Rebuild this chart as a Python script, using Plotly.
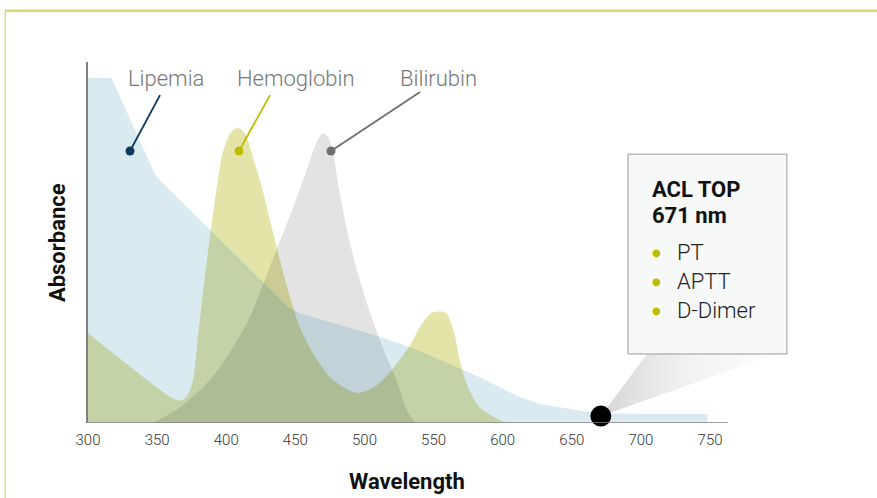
import plotly.graph_objects as go

# ---------------- data ----------------
lipemia_wl = [300, 317, 349, 400, 445, 453, 470, 490, 511, 535, 560, 583, 600, 612, 628, 644, 660, 675, 700, 748]
lipemia_abs = [100, 100, 71.6, 51.4, 33.5, 31.9, 29.9, 27.5, 25.0, 21.7, 17.4, 13.3, 10.0, 7.5, 5.4, 4.3, 3.3, 2.8, 2.6, 2.6]

hemo_wl = [300, 352, 360, 367, 372, 376, 379, 386, 392, 398, 404, 409, 414, 420, 426, 434, 444, 453, 463, 477, 495, 511, 533, 540, 549, 559, 565, 569, 575, 583, 598, 606]
hemo_abs = [26, 9.6, 7.4, 6.5, 8.0, 12.5, 23, 47, 65, 79, 84.5, 85.5, 83.5, 76, 68, 55, 39.5, 28, 20, 12.5, 8.7, 11.6, 22.5, 27.8, 32, 31.9, 26, 18, 10.4, 4.6, 0.9, 0]

bili_wl = [347, 367, 390, 415, 437, 448, 458, 465, 470, 474, 477, 482, 489, 497, 504, 513, 523, 531, 537]
bili_abs = [0, 4.6, 13.3, 29, 51, 62, 73, 81, 84, 82.5, 79, 67, 53, 41, 32, 22, 12.5, 3.5, 0]

tick_values = [300, 350, 400, 450, 500, 550, 600, 650, 700, 750]
tick_labels = ["300", "350", "400", "450", "500", "550", "600", "650", "700", "750"]

acl_wavelength = 671
acl_tests = ["PT", "APTT", "D-Dimer"]
series_names = ["Lipemia", "Hemoglobin", "Bilirubin"]

# ---------------- styles ----------------
FONT = "Roboto"
C_HEMO = "rgb(229,228,168)"          # opaque, bottom layer
C_BILI = "rgba(0,0,0,0.11)"          # translucent grey, middle layer
C_LIP = "rgba(2,115,162,0.15)"       # translucent blue, top layer
DOT_COLORS = ["#0b3a5e", "#bfbc00", "#6e6e6e"]
OLIVE = "#bfbc00"

fig = go.Figure()

for wl, ab, col, shape in [(hemo_wl, hemo_abs, C_HEMO, "spline"),
                           (bili_wl, bili_abs, C_BILI, "spline"),
                           (lipemia_wl, lipemia_abs, C_LIP, "linear")]:
    fig.add_trace(go.Scatter(
        x=wl, y=ab, mode="lines", fill="tozeroy", fillcolor=col,
        line=dict(width=0, color="rgba(0,0,0,0)", shape=shape, smoothing=0.8),
        hoverinfo="skip", showlegend=False))

# beam from the ACL TOP point to the callout box
fig.add_trace(go.Scatter(
    x=[acl_wavelength, 704.4, 798.4, acl_wavelength], y=[2.0, 20, 20, 2.0],
    mode="lines", fill="toself", line=dict(width=0),
    fillgradient=dict(type="horizontal",
                      colorscale=[[0, "rgb(214,214,214)"], [0.45, "rgb(240,240,240)"], [1, "rgb(255,255,255)"]]),
    hoverinfo="skip", showlegend=False, cliponaxis=False))

# ACL TOP marker
fig.add_trace(go.Scatter(x=[acl_wavelength], y=[2.0], mode="markers",
                         marker=dict(size=21, color="black"),
                         hoverinfo="skip", showlegend=False, cliponaxis=False))

# leader lines for the series labels
leaders = [((330.4, 78.8), (352.1, 95.0)),
           ((409.2, 78.8), (431.7, 95.0)),
           ((475.8, 78.8), (540.2, 95.9))]
label_pos = [356.4, 450.5, 553.2]
for (d, e), col, name, lx in zip(leaders, DOT_COLORS, series_names, label_pos):
    fig.add_trace(go.Scatter(x=[d[0], e[0]], y=[d[1], e[1]], mode="lines",
                             line=dict(color=col, width=1.8),
                             hoverinfo="skip", showlegend=False, cliponaxis=False))
    fig.add_trace(go.Scatter(x=[d[0]], y=[d[1]], mode="markers",
                             marker=dict(size=9, color=col),
                             hoverinfo="skip", showlegend=False, cliponaxis=False))
    fig.add_annotation(x=lx, y=99.7, xref="x", yref="y", text=name, showarrow=False,
                       xanchor="center", yanchor="middle",
                       font=dict(family=FONT, size=22, color="#777777", weight=300))

# callout box
fig.add_shape(type="rect", xref="x", yref="y", x0=690.6, x1=805.6, y0=20.0, y1=77.9,
              fillcolor="#f7f8f8", line=dict(color="#9a9a9a", width=1), layer="above")
fig.add_annotation(x=706.5, y=67.8, xref="x", yref="y", text="<b>ACL TOP</b>", showarrow=False,
                   xanchor="left", yanchor="middle", font=dict(family=FONT, size=22, color="#111111"))
fig.add_annotation(x=706.5, y=60.0, xref="x", yref="y", text=f"<b>{acl_wavelength} nm</b>", showarrow=False,
                   xanchor="left", yanchor="middle", font=dict(family=FONT, size=22, color="#111111"))
bullet_y = [49.3, 40.9, 32.7]
for t, by in zip(acl_tests, bullet_y):
    fig.add_annotation(x=710.9, y=by, xref="x", yref="y", text="●", showarrow=False,
                       xanchor="center", yanchor="middle",
                       font=dict(family="DejaVu Sans", size=10, color=OLIVE))
    fig.add_annotation(x=724.6, y=by, xref="x", yref="y", text=t, showarrow=False,
                       xanchor="left", yanchor="middle",
                       font=dict(family=FONT, size=22, color="#222222", weight=300))

# x baseline
fig.add_shape(type="line", xref="x", yref="y", x0=300, x1=763, y0=0, y1=0,
              line=dict(color="#808080", width=1.6), layer="above")

# decorative frame
fig.add_shape(type="line", xref="paper", yref="paper", x0=-0.1177, x1=1.12, y0=1.1421, y1=1.1421,
              line=dict(color="rgb(217,220,112)", width=2.5))
fig.add_shape(type="line", xref="paper", yref="paper", x0=-0.1174, x1=-0.1174, y0=1.145, y1=-0.21,
              line=dict(color="rgb(210,205,70)", width=1))

# axis titles
fig.add_annotation(x=0.453, y=-0.162, xref="paper", yref="paper", text="<b>Wavelength</b>",
                   showarrow=False, xanchor="center", yanchor="middle",
                   font=dict(family=FONT, size=22, color="#111111"))
fig.add_annotation(x=-0.044, y=0.501, xref="paper", yref="paper", text="<b>Absorbance</b>",
                   showarrow=False, textangle=-90, xanchor="center", yanchor="middle",
                   font=dict(family=FONT, size=22, color="#111111"))

fig.update_layout(
    width=877, height=498,
    margin=dict(l=88, r=84, t=62, b=75),
    paper_bgcolor="white", plot_bgcolor="white",
    showlegend=False,
    xaxis=dict(range=[300, 810], showline=False, showgrid=False, zeroline=False,
               tickvals=tick_values, ticktext=tick_labels, ticks="",
               tickfont=dict(family=FONT, size=15, color="#333333", weight=300),
               ticklabelstandoff=6, fixedrange=True),
    yaxis=dict(range=[0, 104.6], showline=True, linecolor="#808080", linewidth=1.6,
               showgrid=False, zeroline=False, showticklabels=False, ticks="",
               fixedrange=True),
)

post = """
var st=document.createElement('style');
st.textContent='html,body{margin:0!important;padding:0!important;overflow:hidden;}';
document.head.appendChild(st);
"""
fig.write_html("out.html", post_script=post, config={"displayModeBar": False})
